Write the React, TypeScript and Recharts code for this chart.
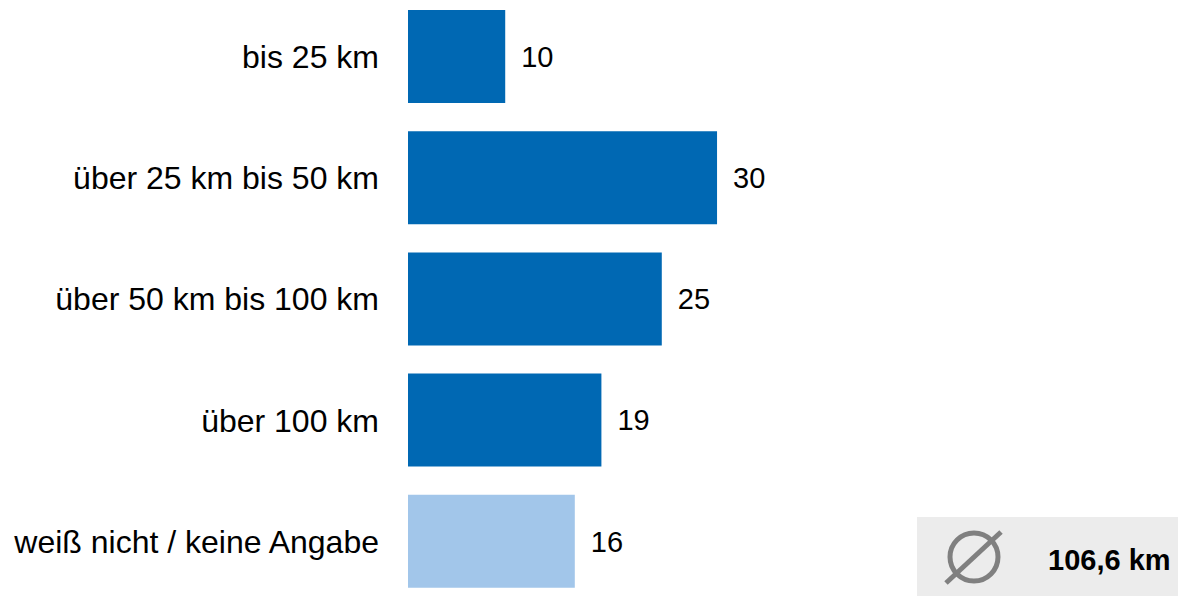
import { BarChart, Bar, XAxis, YAxis, Cell, LabelList } from 'recharts';

// Entfernung (km) – Anteile in Prozent
const categories = [
  'bis 25 km',
  'über 25 km bis 50 km',
  'über 50 km bis 100 km',
  'über 100 km',
  'weiß nicht / keine Angabe',
];
const shares = [9.5, 30.2, 24.8, 18.9, 16.3];
const shareLabels = ['10', '30', '25', '19', '16'];
const barColors = ['#0068b3', '#0068b3', '#0068b3', '#0068b3', '#a2c6ea'];
const averageLabel = '106,6 km';

const data = categories.map((name, i) => ({
  name,
  value: shares[i],
  label: shareLabels[i],
}));

const FONT = '"Liberation Sans", Arial, sans-serif';

export default function App() {
  return (
    <div style={{ position: 'absolute', left: 0, top: 0, width: 1178, height: 596, background: '#fff', fontFamily: FONT }}>
      <BarChart
        width={1178}
        height={596}
        data={data}
        layout="vertical"
        margin={{ top: -4, right: 156, bottom: -6, left: 0 }}
      >
        <XAxis type="number" domain={[0, 60]} hide />
        <YAxis
          type="category"
          dataKey="name"
          width={408}
          axisLine={false}
          tickLine={false}
          tickSize={0}
          tickMargin={29}
          tick={{ fill: '#000', fontSize: 32, fontFamily: FONT }}
        />
        <Bar dataKey="value" barSize={93} isAnimationActive={false}>
          {data.map((d, i) => (
            <Cell key={d.name} fill={barColors[i]} />
          ))}
          <LabelList
            dataKey="label"
            position="right"
            offset={16}
            fill="#000"
            fontSize={29}
            fontFamily={FONT}
          />
        </Bar>
      </BarChart>
      <div
        style={{
          position: 'absolute',
          left: 917,
          top: 517,
          width: 261,
          height: 79,
          background: '#ececec',
        }}
      >
        <svg width={261} height={79} style={{ position: 'absolute', left: 0, top: 0 }}>
          <circle cx={57} cy={40} r={24} fill="none" stroke="#808080" strokeWidth={5} />
          <line x1={29} y1={66} x2={84} y2={15} stroke="#808080" strokeWidth={5} />
          <text x={131} y={53} fontSize={29} fontWeight="bold" fontFamily={FONT} fill="#000">
            {averageLabel}
          </text>
        </svg>
      </div>
    </div>
  );
}
